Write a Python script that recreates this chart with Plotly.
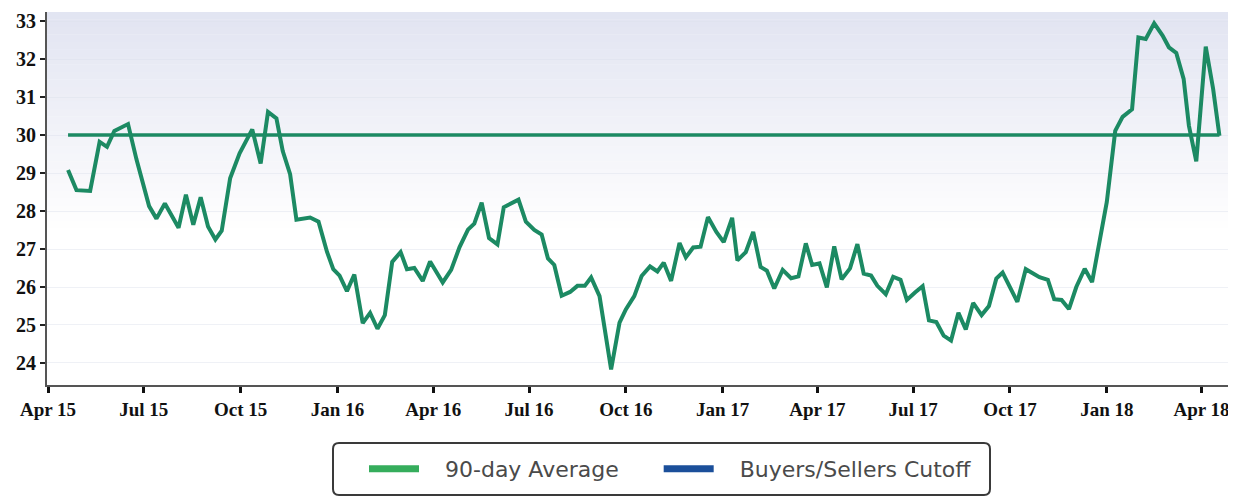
import plotly.graph_objects as go

# 90-day average (weekly readings)
dates = [
    "2015-04-20", "2015-04-28", "2015-05-11", "2015-05-20", "2015-05-27", "2015-06-03",
    "2015-06-16", "2015-06-24", "2015-07-06", "2015-07-13", "2015-07-21", "2015-08-03",
    "2015-08-10", "2015-08-17", "2015-08-24", "2015-08-31", "2015-09-07", "2015-09-13",
    "2015-09-21", "2015-09-30", "2015-10-12", "2015-10-20", "2015-10-27", "2015-11-04",
    "2015-11-10", "2015-11-17", "2015-11-23", "2015-12-06", "2015-12-14", "2015-12-22",
    "2015-12-28", "2016-01-03", "2016-01-10", "2016-01-17", "2016-01-25", "2016-02-01",
    "2016-02-08", "2016-02-15", "2016-02-22", "2016-03-01", "2016-03-07", "2016-03-14",
    "2016-03-22", "2016-03-29", "2016-04-10", "2016-04-18", "2016-04-26", "2016-05-04",
    "2016-05-10", "2016-05-17", "2016-05-24", "2016-06-01", "2016-06-07", "2016-06-14",
    "2016-06-21", "2016-06-28", "2016-07-06", "2016-07-13", "2016-07-19", "2016-07-25",
    "2016-08-01", "2016-08-09", "2016-08-16", "2016-08-23", "2016-08-29", "2016-09-06",
    "2016-09-17", "2016-09-25", "2016-10-01", "2016-10-09", "2016-10-16", "2016-10-24",
    "2016-10-31", "2016-11-06", "2016-11-13", "2016-11-21", "2016-11-27", "2016-12-04",
    "2016-12-11", "2016-12-18", "2016-12-26", "2017-01-02", "2017-01-10", "2017-01-15",
    "2017-01-23", "2017-01-30", "2017-02-06", "2017-02-12", "2017-02-19", "2017-02-27",
    "2017-03-07", "2017-03-14", "2017-03-21", "2017-03-27", "2017-04-03", "2017-04-10",
    "2017-04-17", "2017-04-24", "2017-05-02", "2017-05-09", "2017-05-15", "2017-05-22",
    "2017-05-28", "2017-06-05", "2017-06-12", "2017-06-19", "2017-06-25", "2017-07-03",
    "2017-07-10", "2017-07-16", "2017-07-23", "2017-07-30", "2017-08-06", "2017-08-13",
    "2017-08-20", "2017-08-27", "2017-09-04", "2017-09-11", "2017-09-18", "2017-09-24",
    "2017-10-08", "2017-10-16", "2017-10-23", "2017-10-29", "2017-11-06", "2017-11-12",
    "2017-11-19", "2017-11-26", "2017-12-03", "2017-12-11", "2017-12-18", "2017-12-25",
    "2018-01-01", "2018-01-09", "2018-01-16", "2018-01-25", "2018-01-31", "2018-02-07",
    "2018-02-15", "2018-02-23", "2018-03-01", "2018-03-08", "2018-03-15", "2018-03-20",
    "2018-03-27", "2018-04-05", "2018-04-12", "2018-04-18",
]
avg_90 = [
    29.08, 28.55, 28.53, 29.82, 29.69, 30.11,
    30.29, 29.36, 28.13, 27.80, 28.20, 27.56,
    28.43, 27.64, 28.36, 27.59, 27.25, 27.48,
    28.86, 29.52, 30.15, 29.25, 30.61, 30.44,
    29.58, 28.97, 27.77, 27.83, 27.72, 26.93,
    26.47, 26.30, 25.89, 26.33, 25.05, 25.32,
    24.90, 25.26, 26.66, 26.92, 26.47, 26.50,
    26.16, 26.67, 26.12, 26.45, 27.05, 27.51,
    27.67, 28.22, 27.29, 27.12, 28.10, 28.20,
    28.30, 27.72, 27.50, 27.38, 26.75, 26.58,
    25.77, 25.87, 26.03, 26.03, 26.25, 25.76,
    23.83, 25.06, 25.41, 25.76, 26.29, 26.54,
    26.41, 26.64, 26.16, 27.16, 26.78, 27.04,
    27.06, 27.84, 27.45, 27.18, 27.82, 26.70,
    26.92, 27.45, 26.53, 26.43, 25.96, 26.45,
    26.23, 26.28, 27.15, 26.58, 26.62, 25.99,
    27.07, 26.20, 26.49, 27.13, 26.35, 26.30,
    26.03, 25.81, 26.27, 26.19, 25.66, 25.86,
    26.02, 25.12, 25.08, 24.72, 24.59, 25.32,
    24.88, 25.58, 25.26, 25.50, 26.22, 26.38,
    25.61, 26.47, 26.37, 26.26, 26.19, 25.68,
    25.66, 25.42, 26.00, 26.48, 26.13, 27.19,
    28.24, 30.11, 30.48, 30.68, 32.57, 32.53,
    32.94, 32.62, 32.31, 32.16, 31.48, 30.25,
    29.31, 32.33, 31.22, 29.98,
]

cutoff_dates = [dates[0], dates[-1]]
cutoff_values = [30, 30]

y_ticks = [24, 25, 26, 27, 28, 29, 30, 31, 32, 33]
x_ticks = ["2015-04-01", "2015-07-01", "2015-10-01", "2016-01-01", "2016-04-01",
           "2016-07-01", "2016-10-01", "2017-01-01", "2017-04-01", "2017-07-01",
           "2017-10-01", "2018-01-01", "2018-04-01"]
x_labels = ["Apr 15", "Jul 15", "Oct 15", "Jan 16", "Apr 16", "Jul 16", "Oct 16",
            "Jan 17", "Apr 17", "Jul 17", "Oct 17", "Jan 18", "Apr 18"]

LINE_GREEN = "#1c8a63"
NB = "\u00a0"

fig = go.Figure()
fig.add_trace(go.Scatter(x=cutoff_dates, y=cutoff_values, mode="lines",
                         line=dict(color=LINE_GREEN, width=3.5), showlegend=False,
                         hoverinfo="skip"))
fig.add_trace(go.Scatter(x=dates, y=avg_90, mode="lines",
                         line=dict(color=LINE_GREEN, width=4), showlegend=False))
# legend entries (the legend swatches use their own colours)
fig.add_trace(go.Scatter(x=[None], y=[None], mode="lines",
                         name=NB * 3 + "90-day Average" + NB * 5,
                         line=dict(color="#35ad5c", width=7)))
fig.add_trace(go.Scatter(x=[None], y=[None], mode="lines",
                         name=NB * 3 + "Buyers/Sellers Cutoff",
                         line=dict(color="#1b4f9a", width=7)))

# page body has an 8px margin: figure pixel = screen pixel - 8
OFF = 8
W, H = 1236 - OFF, 498 - OFF
L, R, T, B = 47 - OFF, 1231 - OFF, 12 - OFF, 385 - OFF


def px(xs):
    return (xs - OFF - L) / (R - L)


def py(ys):
    return (B - (ys - OFF)) / (B - T)


shapes = []
# soft lavender gradient at the top of the plot area
n = 30
for i in range(n):
    t = i / (n - 1)
    r0, g0, b0 = 226, 229, 242
    r = int(r0 + (255 - r0) * t)
    g = int(g0 + (255 - g0) * t)
    b = int(b0 + (255 - b0) * t)
    y1 = 1 - i * 0.02
    y0 = y1 - 0.021
    shapes.append(dict(type="rect", xref="paper", yref="paper", x0=0, x1=1, y0=y0, y1=y1,
                       fillcolor=f"rgb({r},{g},{b})", line=dict(width=0), layer="below"))

# rounded legend frame (screen pixels 333..990 x 443..495)
path = (f"M {px(339)},{py(443)} L {px(984)},{py(443)} Q {px(990)},{py(443)} {px(990)},{py(449)} "
        f"L {px(990)},{py(489)} Q {px(990)},{py(495)} {px(984)},{py(495)} "
        f"L {px(339)},{py(495)} Q {px(333)},{py(495)} {px(333)},{py(489)} "
        f"L {px(333)},{py(449)} Q {px(333)},{py(443)} {px(339)},{py(443)} Z")
shapes.append(dict(type="path", xref="paper", yref="paper", path=path,
                   line=dict(color="#3a3a3a", width=2), fillcolor="rgba(0,0,0,0)"))

fig.update_layout(
    width=W, height=H,
    margin=dict(l=L, r=W - R, t=T, b=H - B),
    paper_bgcolor="white", plot_bgcolor="white",
    shapes=shapes,
    showlegend=True,
    legend=dict(orientation="h", x=px(364), xanchor="left", y=py(469), yanchor="middle",
                borderwidth=0, bgcolor="rgba(0,0,0,0)",
                font=dict(family="DejaVu Sans", size=22, color="#4a4a4a"),
                itemwidth=50),
    xaxis=dict(type="date", range=["2015-03-31", "2018-04-29"], automargin=False,
               tickvals=x_ticks, ticktext=x_labels,
               showgrid=False, zeroline=False,
               showline=True, linecolor="#555555", linewidth=2,
               ticks="outside", ticklen=6, tickwidth=3, tickcolor="#111111",
               ticklabeloverflow="allow",
               tickfont=dict(family="Liberation Serif", size=19, color="#111111",
                             weight="bold")),
    yaxis=dict(range=[23.42, 33.24], tickvals=y_ticks, automargin=False,
               showgrid=True, gridcolor="rgba(220,224,236,0.45)", gridwidth=1,
               zeroline=False,
               showline=True, linecolor="#555555", linewidth=2,
               ticks="outside", ticklen=5, tickwidth=2, tickcolor="#222222",
               ticklabeloverflow="allow",
               tickfont=dict(family="Liberation Serif", size=20, color="#111111",
                             weight="bold")),
)

fig.write_html("out.html")
